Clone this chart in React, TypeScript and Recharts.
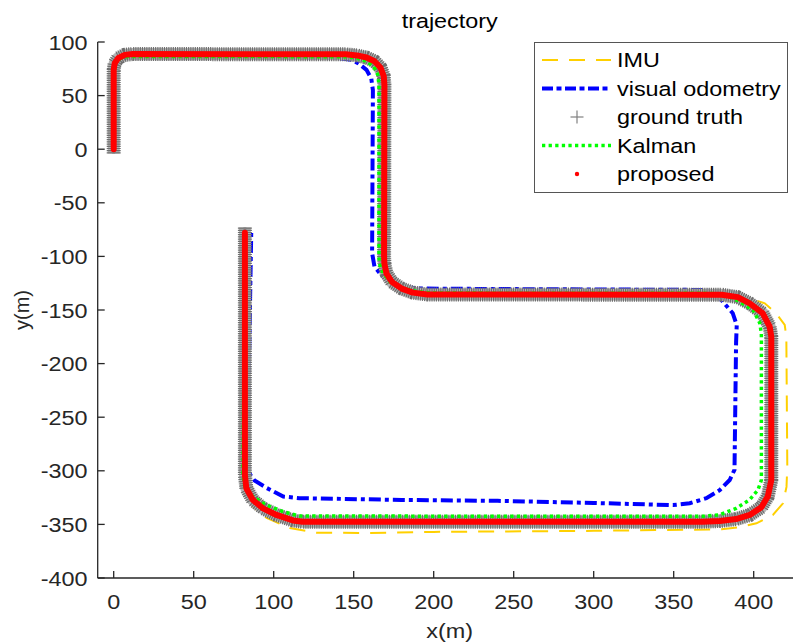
import React from 'react';
import { LineChart, Line, XAxis, YAxis, Legend, Label } from 'recharts';

const chartTitle = 'trajectory';
const xLabel = 'x(m)';
const yLabel = 'y(m)';
const xTicks = [0, 50, 100, 150, 200, 250, 300, 350, 400];
const yTicks = [-400, -350, -300, -250, -200, -150, -100, -50, 0, 50, 100];
const xDomain = [-10, 430];
const yDomain = [-400, 100];

const seriesNames = ['IMU', 'visual odometry', 'ground truth', 'Kalman', 'proposed'];
const seriesColors = ['#FFD000', '#0000FF', '#808080', '#00FF00', '#FF0000'];

const imuPath = [
  { x: 0, y: 0 }, { x: 0, y: 74 }, { x: 0.6, y: 80 }, { x: 2.7, y: 84.8 }, { x: 6.9, y: 88 }, { x: 12, y: 88.8 },
  { x: 145, y: 88.5 }, { x: 152, y: 87.5 }, { x: 158, y: 85.5 }, { x: 163, y: 82 }, { x: 166.8, y: 76 },
  { x: 168.8, y: 68 }, { x: 169.2, y: 60 }, { x: 169, y: -100 }, { x: 169.2, y: -107 }, { x: 170.5, y: -116 },
  { x: 174, y: -124 }, { x: 180, y: -130 }, { x: 187, y: -134 }, { x: 196, y: -136 }, { x: 385, y: -136.5 },
  { x: 397.5, y: -139 }, { x: 406.9, y: -143.8 }, { x: 414, y: -153 }, { x: 419.4, y: -164 }, { x: 420.4, y: -175 },
  { x: 421, y: -296 }, { x: 420.5, y: -315 }, { x: 418.3, y: -330.3 }, { x: 412, y: -341.2 }, { x: 401.7, y: -349 },
  { x: 391, y: -352.7 }, { x: 380, y: -354.6 }, { x: 300, y: -356 }, { x: 200, y: -357 }, { x: 158, y: -358 },
  { x: 126.7, y: -357.7 }, { x: 110, y: -353.4 }, { x: 95.6, y: -344 }, { x: 87, y: -333.5 }, { x: 83, y: -318 },
  { x: 82, y: -300 }, { x: 82, y: -78 },
];

const voPath = [
  { x: 0, y: 0 }, { x: 0, y: 72 }, { x: 1, y: 79 }, { x: 3.5, y: 83.5 }, { x: 8, y: 85.5 }, { x: 14, y: 86 },
  { x: 140, y: 85 }, { x: 148.5, y: 83.5 }, { x: 153, y: 80 }, { x: 158, y: 74 }, { x: 161, y: 66 },
  { x: 162, y: 55 }, { x: 161.5, y: -96.8 }, { x: 163, y: -109.6 }, { x: 167.3, y: -117.4 }, { x: 172, y: -123.5 },
  { x: 180, y: -128 }, { x: 190, y: -130 }, { x: 250, y: -130.5 }, { x: 370, y: -131.3 }, { x: 376, y: -135.5 },
  { x: 380.8, y: -142.3 }, { x: 386.9, y: -153 }, { x: 389.4, y: -164 }, { x: 389, y: -180 }, { x: 388, y: -299 },
  { x: 385, y: -308.6 }, { x: 378.75, y: -318 }, { x: 370.4, y: -325.6 }, { x: 360, y: -330.3 }, { x: 349.5, y: -332 },
  { x: 300, y: -330 }, { x: 240, y: -328 }, { x: 180, y: -327.2 }, { x: 116, y: -325.5 }, { x: 106, y: -324 },
  { x: 95.6, y: -316 }, { x: 88, y: -309 }, { x: 85, y: -303 }, { x: 83.5, y: -290 }, { x: 86, y: -75 },
];

const truthPath = [
  { x: 0, y: -4 }, { x: 0, y: 74 }, { x: 0.6, y: 80 }, { x: 2.7, y: 84.8 }, { x: 6.9, y: 88 }, { x: 12, y: 88.8 },
  { x: 145, y: 88.5 }, { x: 152, y: 87.5 }, { x: 158, y: 85.5 }, { x: 163, y: 82 }, { x: 166.8, y: 76 },
  { x: 168.8, y: 68 }, { x: 169.2, y: 60 }, { x: 169, y: -100 }, { x: 169.2, y: -107 }, { x: 170.5, y: -116 },
  { x: 174, y: -124 }, { x: 180, y: -130 }, { x: 187, y: -133.8 }, { x: 196, y: -135.5 }, { x: 380, y: -135.8 },
  { x: 390, y: -138 }, { x: 397.5, y: -143.8 }, { x: 405.6, y: -153 }, { x: 410, y: -165.6 }, { x: 411, y: -175 },
  { x: 411, y: -308.6 }, { x: 408.8, y: -324 }, { x: 404.8, y: -334 }, { x: 397.5, y: -341.2 }, { x: 389, y: -345 },
  { x: 378.8, y: -346.8 }, { x: 368, y: -347.5 }, { x: 118, y: -347.5 }, { x: 112, y: -346.3 }, { x: 101.7, y: -341.2 },
  { x: 93.3, y: -335 }, { x: 87, y: -327.2 }, { x: 82.9, y: -316.3 }, { x: 82, y: -304 }, { x: 82, y: -73 },
];

const kalmanPath = [
  { x: 0, y: 0 }, { x: 0, y: 74 }, { x: 0.8, y: 80 }, { x: 3, y: 84 }, { x: 7, y: 86.3 }, { x: 12, y: 86.5 },
  { x: 145, y: 86.3 }, { x: 152, y: 85 }, { x: 158, y: 82 }, { x: 162.5, y: 77 }, { x: 165, y: 70 },
  { x: 165.8, y: 60 }, { x: 165.8, y: -100 }, { x: 166, y: -106 }, { x: 167.3, y: -112.7 }, { x: 172.5, y: -123.6 },
  { x: 180.8, y: -129.8 }, { x: 190, y: -133 }, { x: 200, y: -134.2 }, { x: 375, y: -134.5 }, { x: 384, y: -137 },
  { x: 391, y: -142 }, { x: 399.6, y: -150 }, { x: 403.75, y: -162 }, { x: 404.8, y: -172 }, { x: 404.8, y: -308.6 },
  { x: 402.6, y: -318 }, { x: 397.5, y: -327 }, { x: 389, y: -335 }, { x: 378.75, y: -341 }, { x: 368, y: -342.5 },
  { x: 116, y: -342.2 }, { x: 105.8, y: -338 }, { x: 95.4, y: -332 }, { x: 87, y: -324 }, { x: 82, y: -314.8 },
  { x: 80.8, y: -305 }, { x: 82, y: -76 },
];

const proposedPath = [
  { x: 0, y: 0 }, { x: 0, y: 74 }, { x: 0.6, y: 80 }, { x: 2.7, y: 84.8 }, { x: 6.9, y: 88 }, { x: 12, y: 88.8 },
  { x: 145, y: 88.5 }, { x: 152, y: 87.5 }, { x: 158, y: 85.5 }, { x: 163, y: 82 }, { x: 166.8, y: 76 },
  { x: 168.8, y: 68 }, { x: 169.2, y: 60 }, { x: 169, y: -100 }, { x: 169.2, y: -107 }, { x: 170.5, y: -116 },
  { x: 174, y: -124 }, { x: 180, y: -130 }, { x: 187, y: -133.8 }, { x: 196, y: -135.5 }, { x: 380, y: -135.8 },
  { x: 390, y: -138 }, { x: 397.5, y: -143.8 }, { x: 405.6, y: -153 }, { x: 410, y: -165.6 }, { x: 411, y: -175 },
  { x: 411, y: -308.6 }, { x: 408.8, y: -324 }, { x: 404.8, y: -334 }, { x: 397.5, y: -341.2 }, { x: 389, y: -345 },
  { x: 378.8, y: -346.8 }, { x: 368, y: -347.5 }, { x: 118, y: -347.5 }, { x: 112, y: -346.3 }, { x: 101.7, y: -341.2 },
  { x: 93.3, y: -335 }, { x: 87, y: -327.2 }, { x: 82.9, y: -316.3 }, { x: 82, y: -304 }, { x: 82, y: -78 },
];

const FONT = '"Liberation Sans", Arial, sans-serif';
const FS = 19.5;
const STRETCH = 'scale(1.2,1)';
const AXIS_COLOR = '#262626';
const PLOT_TOP = 42;
const PLOT_HEIGHT = 536;

const XTick = (props: any) => {
  const { x, y, payload } = props;
  return (
    <g transform={`translate(${x},${y})`}>
      <text transform={STRETCH} textAnchor="middle" dy={38} fill={AXIS_COLOR} fontSize={FS} fontFamily={FONT}>
        {payload.value}
      </text>
    </g>
  );
};

const YTick = (props: any) => {
  const { x, y, payload } = props;
  return (
    <g transform={`translate(${x},${y})`}>
      <text transform={STRETCH} textAnchor="end" dy={7.5} fill={AXIS_COLOR} fontSize={FS} fontFamily={FONT}>
        {payload.value}
      </text>
    </g>
  );
};

const TitleLabel = (props: any) => {
  const vb = props.viewBox || {};
  const cx = vb.x + vb.width / 2;
  return (
    <g transform={`translate(${cx},${vb.y - PLOT_HEIGHT - 14})`}>
      <text transform={STRETCH} textAnchor="middle" fill="#000" fontSize={FS} fontFamily={FONT}>{chartTitle}</text>
    </g>
  );
};

const XAxisLabel = (props: any) => {
  const vb = props.viewBox || {};
  const cx = vb.x + vb.width / 2;
  return (
    <g transform={`translate(${cx},${vb.y + 60})`}>
      <text transform={STRETCH} textAnchor="middle" fill={AXIS_COLOR} fontSize={FS} fontFamily={FONT}>{xLabel}</text>
    </g>
  );
};

const YAxisLabel = (props: any) => {
  const vb = props.viewBox || {};
  const cy = vb.y + vb.height / 2;
  return (
    <g transform={`translate(${vb.x + 29},${cy}) rotate(-90)`}>
      <text textAnchor="middle" fill={AXIS_COLOR} fontSize={FS + 0.5} fontFamily={FONT}>{yLabel}</text>
    </g>
  );
};

const rowY = [18, 46.5, 75, 103.5, 132];

const LegendBox = () => (
  <svg width={254} height={151} style={{ display: 'block' }}>
    <rect x={0.5} y={0.5} width={253} height={150} fill="#fff" stroke="#555" strokeWidth={1} />
    <line x1={8} x2={77} y1={rowY[0]} y2={rowY[0]} stroke={seriesColors[0]} strokeWidth={2} strokeDasharray="16 11" />
    <line x1={8} x2={77} y1={rowY[1]} y2={rowY[1]} stroke={seriesColors[1]} strokeWidth={4} strokeDasharray="11 3.5 5 3.5" />
    <g stroke={seriesColors[2]} strokeWidth={1.2}>
      <line x1={36.5} x2={49.5} y1={rowY[2]} y2={rowY[2]} />
      <line x1={43} x2={43} y1={rowY[2] - 6.5} y2={rowY[2] + 6.5} />
    </g>
    <line x1={8} x2={77} y1={rowY[3]} y2={rowY[3]} stroke={seriesColors[3]} strokeWidth={3.5} strokeDasharray="3.3 3.3" />
    <circle cx={43} cy={rowY[4]} r={2.2} fill={seriesColors[4]} />
    {seriesNames.map((n, i) => (
      <g key={n} transform={`translate(83,${rowY[i] + 7})`}>
        <text transform={STRETCH} fill="#000" fontSize={FS} fontFamily={FONT}>{n}</text>
      </g>
    ))}
  </svg>
);

export default function App() {
  return (
    <div style={{ position: 'fixed', left: 0, top: 0, width: 793, height: 644, overflow: 'hidden', background: '#fff' }}>
      <LineChart width={830} height={644} margin={{ top: PLOT_TOP, right: 28.3, bottom: 0, left: 0 }}>
        <XAxis
          xAxisId="top"
          orientation="top"
          type="number"
          dataKey="x"
          domain={xDomain}
          ticks={xTicks}
          allowDataOverflow
          height={0}
          tick={false}
          tickSize={-7}
          axisLine={{ stroke: AXIS_COLOR, strokeWidth: 1.3 }}
          tickLine={{ stroke: AXIS_COLOR, strokeWidth: 1.3 }}
        />
        <XAxis
          type="number"
          dataKey="x"
          domain={xDomain}
          ticks={xTicks}
          allowDataOverflow
          height={66}
          tickSize={-7}
          tickMargin={0}
          tick={XTick}
          interval={0}
          axisLine={{ stroke: AXIS_COLOR, strokeWidth: 1.3 }}
          tickLine={{ stroke: AXIS_COLOR, strokeWidth: 1.3 }}
        >
          <Label content={XAxisLabel} />
          <Label content={TitleLabel} />
        </XAxis>
        <YAxis
          type="number"
          dataKey="y"
          domain={yDomain}
          ticks={yTicks}
          allowDataOverflow
          width={97.7}
          tickSize={-7}
          tickMargin={17.2}
          tick={YTick}
          interval={0}
          axisLine={{ stroke: AXIS_COLOR, strokeWidth: 1.3 }}
          tickLine={{ stroke: AXIS_COLOR, strokeWidth: 1.3 }}
        >
          <Label content={YAxisLabel} />
        </YAxis>
        <Line data={imuPath} dataKey="y" name={seriesNames[0]} type="linear" stroke={seriesColors[0]} strokeWidth={2}
          strokeDasharray="16 11" dot={false} activeDot={false} isAnimationActive={false} />
        <Line data={voPath} dataKey="y" name={seriesNames[1]} type="linear" stroke={seriesColors[1]} strokeWidth={4}
          strokeDasharray="12 4 4 4" dot={false} activeDot={false} isAnimationActive={false} />
        <Line data={truthPath} dataKey="y" name="truth-base" legendType="none" type="linear" stroke="#b4b4b4" strokeWidth={12}
          dot={false} activeDot={false} isAnimationActive={false} />
        <Line data={truthPath} dataKey="y" name={seriesNames[2]} type="linear" stroke="#6e6e6e" strokeWidth={14}
          strokeDasharray="1.2 1" dot={false} activeDot={false} isAnimationActive={false} />
        <Line data={truthPath} dataKey="y" name="truth-core" legendType="none" type="linear" stroke="#808080" strokeWidth={3}
          dot={false} activeDot={false} isAnimationActive={false} />
        <Line data={kalmanPath} dataKey="y" name={seriesNames[3]} type="linear" stroke={seriesColors[3]} strokeWidth={3.5}
          strokeDasharray="3.3 3.3" dot={false} activeDot={false} isAnimationActive={false} />
        <Line data={proposedPath} dataKey="y" name={seriesNames[4]} type="linear" stroke={seriesColors[4]} strokeWidth={6}
          strokeLinecap="round" strokeLinejoin="round" dot={false} activeDot={false} isAnimationActive={false} />
        <Legend
          layout="vertical"
          align="center"
          verticalAlign="middle"
          content={LegendBox}
          wrapperStyle={{ position: 'absolute', left: 534, top: 42, width: 254, height: 151 }}
        />
      </LineChart>
    </div>
  );
}
